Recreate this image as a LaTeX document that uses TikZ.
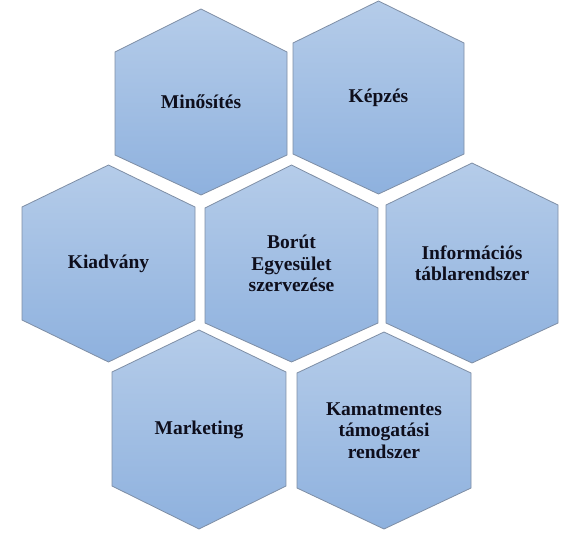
\documentclass[tikz,border=0pt]{standalone}
\usepackage{fontspec}
\setmainfont{Liberation Serif}
\definecolor{hextop}{HTML}{B5CCE9}
\definecolor{hexbot}{HTML}{8EB1DE}
\definecolor{hexline}{HTML}{7E8EA5}
\definecolor{hextext}{HTML}{0E0E1C}
\tikzset{
  hexshape/.style={draw=hexline, line width=0.8pt, top color=hextop, bottom color=hexbot, line join=miter},
  hexlabel/.style={align=center, font=\fontsize{19.5}{21.5}\selectfont\bfseries, text=hextext, inner sep=0pt}
}
% #1 name, #2 left, #3 right, #4 top, #5 upper shoulder, #6 lower shoulder, #7 bottom, #8 text
\newcommand{\myhex}[8]{%
  \path[hexshape] ({(#2+#3)/2},#4) -- (#3,#5) -- (#3,#6) -- ({(#2+#3)/2},#7) -- (#2,#6) -- (#2,#5) -- cycle;
  \node[hexlabel] (#1) at ({(#2+#3)/2},{(#4+#7)/2}) {#8};
}
\begin{document}
\begin{tikzpicture}[x=1pt,y=-1pt]
\useasboundingbox (0,0) rectangle (580,536);
\fill[white] (0,0) rectangle (580,536);
\myhex{minosites}{115}{287}{9}{52}{155}{195}{Minősítés}
\myhex{kepzes}{293}{464}{1}{43}{154}{194}{Képzés}
\myhex{kiadvany}{22}{195}{165}{207}{320}{362}{Kiadvány}
\myhex{borut}{205}{378}{165}{208}{323}{362}{Borút\\Egyesület\\szervezése}
\myhex{info}{386}{558}{163}{205}{323}{363}{Információs\\táblarendszer}
\myhex{marketing}{112}{286}{330}{372}{486}{529}{Marketing}
\myhex{kamat}{297}{471}{332}{373}{488}{529}{Kamatmentes\\támogatási\\rendszer}
\end{tikzpicture}
\end{document}
